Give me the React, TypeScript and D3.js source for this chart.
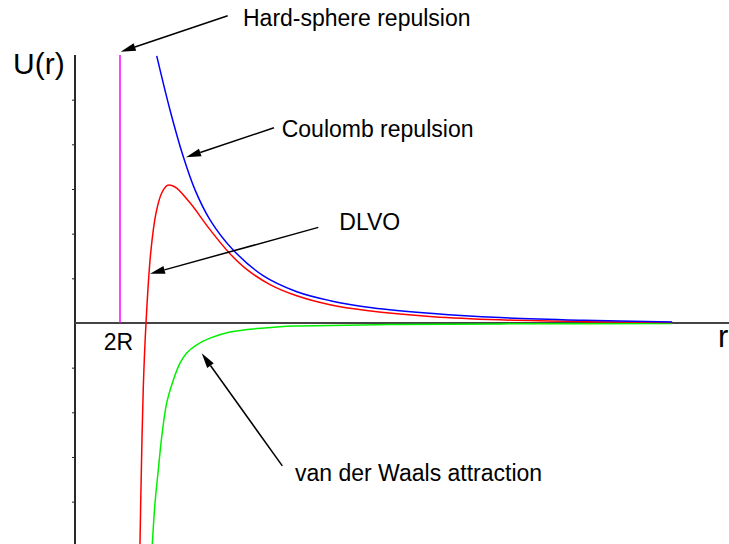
import React, { useEffect, useRef } from "react";
import * as d3 from "d3";

// Interaction potentials between two charged colloids, r in units of 2R
const coulombR = [1.816, 2.111, 2.407, 2.667, 3.0, 3.51, 4.18, 4.93, 5.67, 6.6, 7.96, 9.44, 11.3, 13.27];
const coulombU = [5.98, 4.77, 3.72, 2.98, 2.31, 1.64, 1.06, 0.7, 0.5, 0.34, 0.21, 0.12, 0.06, 0.02];

const dlvoR = [1.444, 1.467, 1.518, 1.578, 1.682, 1.8, 1.927, 2.051, 2.149, 2.26, 2.556, 3.0, 3.444, 3.816, 4.333, 4.927, 5.667, 6.48, 7.96, 9.44, 11.3, 13.27];
const dlvoU = [-4.95, -3.66, -1.43, 0, 1.57, 2.46, 2.91, 3.08, 3.08, 3.02, 2.69, 2.09, 1.55, 1.2, 0.86, 0.61, 0.41, 0.28, 0.14, 0.07, 0.03, 0.01];

const vdwR = [1.718, 1.778, 1.851, 1.927, 2.038, 2.184, 2.333, 2.482, 2.704, 3.0, 3.444, 4.556, 5.0, 7.0, 9.44, 13.27];
const vdwU = [-4.95, -4.03, -3.29, -2.55, -1.79, -1.28, -0.9, -0.67, -0.49, -0.34, -0.2, -0.085, -0.067, -0.035, -0.02, -0.01];

// Hard-sphere wall at contact distance r = 2R
const hardR = [1, 1];
const hardU = [0, 6];

const yTicks = [-4, -3, -2, -1, 1, 2, 3, 4, 5];

// Annotation text and arrows, in data units: [textR, textU, fromR, fromU, tipR, tipU]
const labelTexts = ["Hard-sphere repulsion", "Coulomb repulsion", "DLVO", "van der Waals attraction"];
const labelAnchors = [
  [3.733, 6.64, 3.393, 6.88, 1.016, 6.07],
  [4.593, 4.17, 4.422, 4.37, 2.467, 3.71],
  [5.873, 2.08, 5.407, 2.14, 1.667, 1.10],
  [4.889, -3.53, 4.607, -3.2, 2.816, -0.68],
];

const W = 729;
const H = 544;

export default function App() {
  const ref = useRef<SVGSVGElement>(null);

  useEffect(() => {
    const svg = d3.select(ref.current);
    svg.selectAll("*").remove();

    const x = d3.scaleLinear().domain([0, 14.533]).range([75, 729]);
    const y = d3.scaleLinear().domain([-5, 6]).range([546.3, 55]);

    const font = "'Liberation Sans', Arial, sans-serif";

    // y ticks
    const axisG = svg.append("g").attr("transform", `translate(${x(0)},0)`);
    axisG.call(
      d3.axisLeft(y).tickValues(yTicks).tickSize(3).tickFormat(() => "") as any
    );
    axisG.select(".domain").remove();
    axisG.selectAll(".tick line").attr("stroke", "#222").attr("stroke-width", 1);

    // axes lines
    svg.append("line")
      .attr("x1", x(0)).attr("x2", x(0))
      .attr("y1", y(6)).attr("y2", H + 5)
      .attr("stroke", "#2a2a2a").attr("stroke-width", 2);
    svg.append("line")
      .attr("x1", x(0)).attr("x2", W + 5)
      .attr("y1", y(0)).attr("y2", y(0))
      .attr("stroke", "#444").attr("stroke-width", 2);

    const line = (rs: number[], us: number[], curve: d3.CurveFactory) =>
      d3.line<number>()
        .x((_, i) => x(rs[i]))
        .y((_, i) => y(us[i]))
        .curve(curve)(rs);

    const smooth = d3.curveCatmullRom.alpha(0.5);

    svg.append("path").attr("d", line(hardR, hardU, d3.curveLinear))
      .attr("fill", "none").attr("stroke", "#ff00ff").attr("stroke-width", 1.5);
    svg.append("path").attr("d", line(vdwR, vdwU, smooth))
      .attr("fill", "none").attr("stroke", "#00f000").attr("stroke-width", 1.5);
    svg.append("path").attr("d", line(dlvoR, dlvoU, smooth))
      .attr("fill", "none").attr("stroke", "#ff0000").attr("stroke-width", 1.5);
    svg.append("path").attr("d", line(coulombR, coulombU, smooth))
      .attr("fill", "none").attr("stroke", "#0000ff").attr("stroke-width", 1.5);

    // axis labels
    svg.append("text").attr("x", 13).attr("y", 74)
      .attr("font-family", font).attr("font-size", 30).text("U(r)");
    svg.append("text").attr("x", 718).attr("y", 347)
      .attr("font-family", font).attr("font-size", 31).text("r");
    svg.append("text").attr("x", x(1) - 1.5).attr("y", 349.5)
      .attr("text-anchor", "middle")
      .attr("font-family", font).attr("font-size", 23).text("2R");

    // annotations with arrows
    labelAnchors.forEach((a, i) => {
      const [tr, tu, fr, fu, pr, pu] = a;
      const x1 = x(fr), y1 = y(fu), x2 = x(pr), y2 = y(pu);
      const ang = Math.atan2(y2 - y1, x2 - x1);
      const len = 15, half = 4;
      const bx = x2 - len * Math.cos(ang), by = y2 - len * Math.sin(ang);
      svg.append("line")
        .attr("x1", x1).attr("y1", y1).attr("x2", bx).attr("y2", by)
        .attr("stroke", "#000").attr("stroke-width", 1.5);
      const px = -Math.sin(ang) * half, py = Math.cos(ang) * half;
      svg.append("path")
        .attr("d", `M${x2},${y2}L${bx + px},${by + py}L${bx - px},${by - py}Z`)
        .attr("fill", "#000");
      svg.append("text").attr("x", x(tr)).attr("y", y(tu))
        .attr("font-family", font).attr("font-size", 23).attr("fill", "#000")
        .text(labelTexts[i]);
    });
  }, []);

  return (
    <svg
      ref={ref}
      width={W}
      height={H}
      style={{ position: "absolute", left: 0, top: 0, background: "#fff" }}
    />
  );
}
